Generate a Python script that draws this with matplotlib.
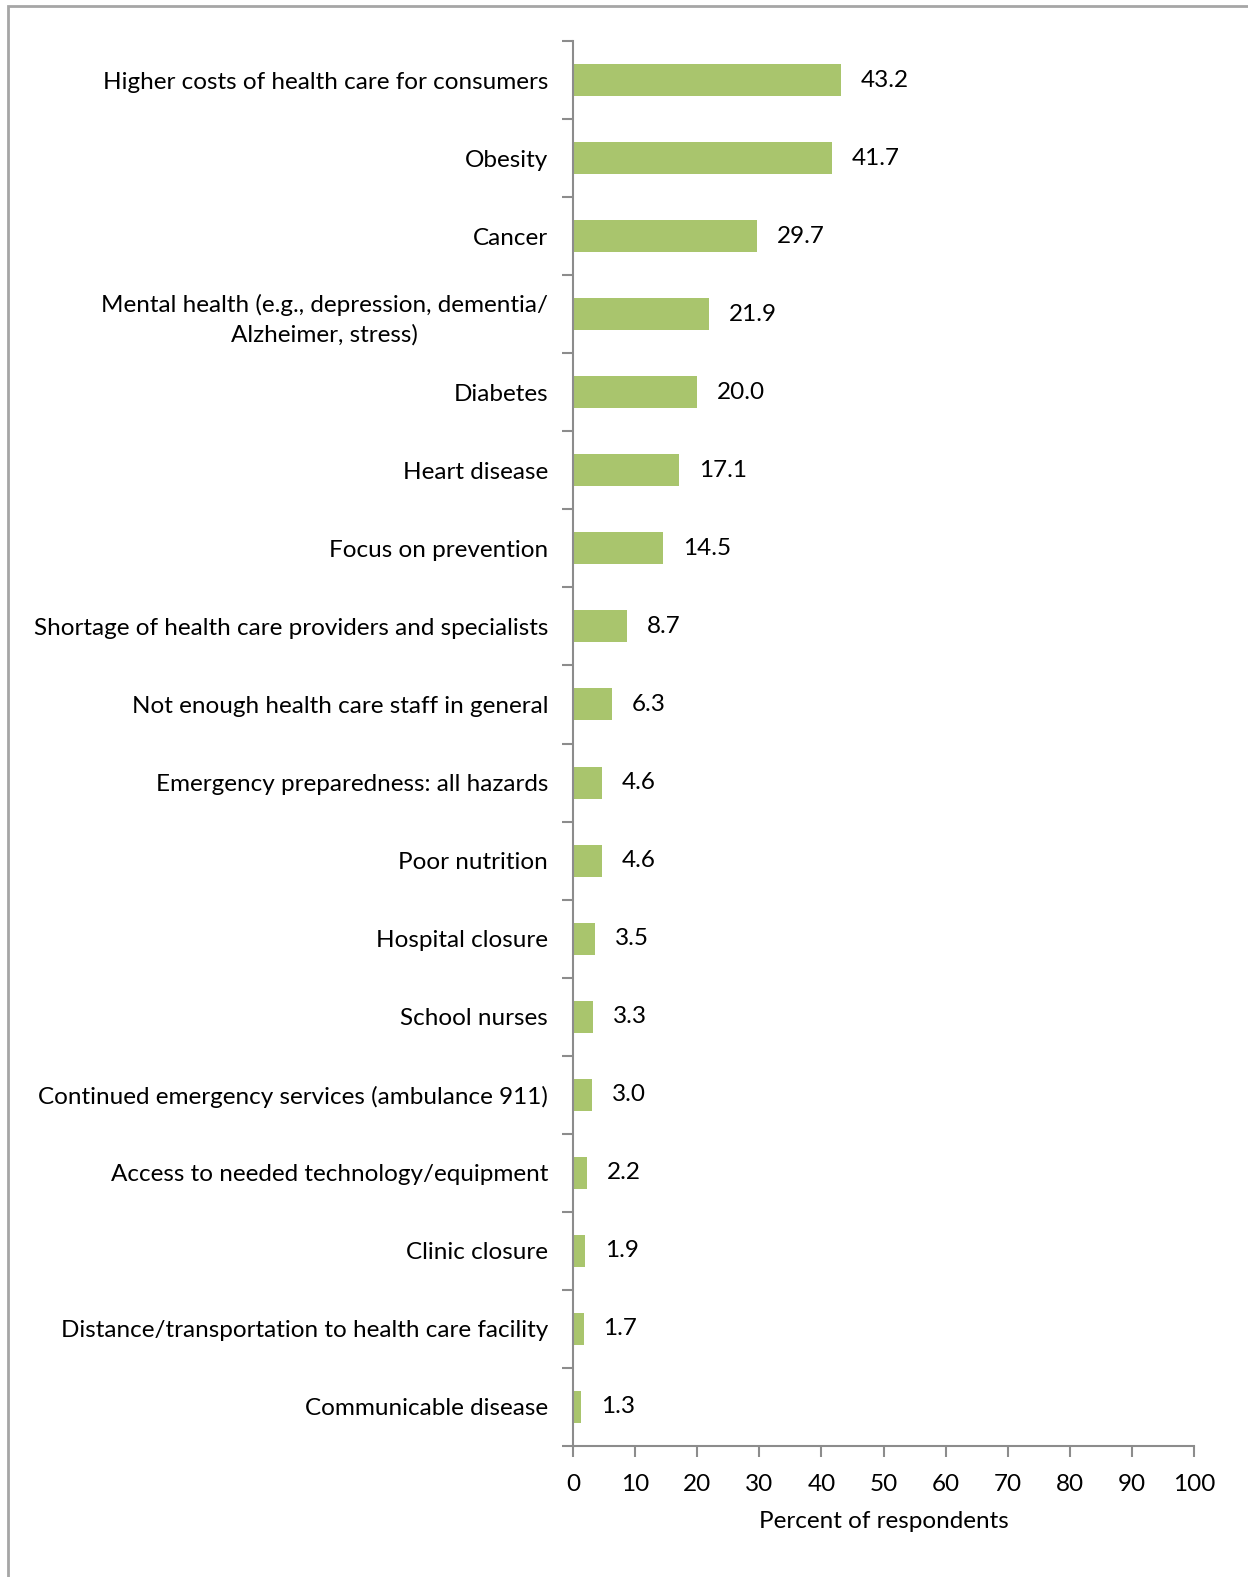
import matplotlib.pyplot as plt
from matplotlib.patches import Rectangle

categories = [
    "Higher costs of health care for consumers",
    "Obesity",
    "Cancer",
    "Mental health (e.g., depression, dementia/\nAlzheimer, stress)",
    "Diabetes",
    "Heart disease",
    "Focus on prevention",
    "Shortage of health care providers and specialists",
    "Not enough health care staff in general",
    "Emergency preparedness: all hazards",
    "Poor nutrition",
    "Hospital closure",
    "School nurses",
    "Continued emergency services (ambulance 911)",
    "Access to needed technology/equipment",
    "Clinic closure",
    "Distance/transportation to health care facility",
    "Communicable disease",
]
values = [43.2, 41.7, 29.7, 21.9, 20.0, 17.1, 14.5, 8.7, 6.3, 4.6, 4.6, 3.5, 3.3, 3.0, 2.2, 1.9, 1.7, 1.3]
xticks = [0, 10, 20, 30, 40, 50, 60, 70, 80, 90, 100]

W, H = 1248, 1577
FS = 17.5
plt.rcParams['font.family'] = ['Lato', 'DejaVu Sans']
fig = plt.figure(figsize=(W / 100, H / 100), dpi=100)

# axes placement in pixels
x0, x1 = 573, 1194
y0, y1 = 41, 1446
ax = fig.add_axes([x0 / W, 1 - y1 / H, (x1 - x0) / W, (y1 - y0) / H])

n = len(categories)
pos = list(range(n))
ax.barh(pos, values, height=0.41, color='#a9c56d', zorder=2)
ax.set_ylim(n - 0.5, -0.5)
ax.set_xlim(0, 100)

gray = '#8c8c8c'
for s in ['top', 'right']:
    ax.spines[s].set_visible(False)
for s in ['left', 'bottom']:
    ax.spines[s].set_color(gray)
    ax.spines[s].set_linewidth(1.5)

ax.set_xticks(xticks)
ax.set_xticklabels([str(t) for t in xticks], fontsize=FS)
ax.tick_params(axis='x', length=8, width=1.5, color=gray, pad=12)

# category boundary ticks on y
ax.set_yticks([p - 0.5 for p in pos] + [n - 0.5], minor=True)
ax.tick_params(axis='y', which='minor', length=8, width=1.5, color=gray)
ax.set_yticks(pos)
ax.set_yticklabels(categories, fontsize=FS, ma='center', linespacing=1.45)
ax.tick_params(axis='y', which='major', length=0, pad=18)

for p, v in zip(pos, values):
    ax.text(v + 3.2, p, f"{v:.1f}", va='center', ha='left', fontsize=FS)

ax.set_xlabel("Percent of respondents", fontsize=FS, labelpad=12)

# outer frame (partially cropped in the reference)
fig.patches.append(Rectangle((8 / W, -0.1), 1.2, 1 - 6 / H + 0.1, transform=fig.transFigure,
                             fill=False, edgecolor='#a6a6a6', linewidth=2))

fig.savefig("out.png", dpi=100)
